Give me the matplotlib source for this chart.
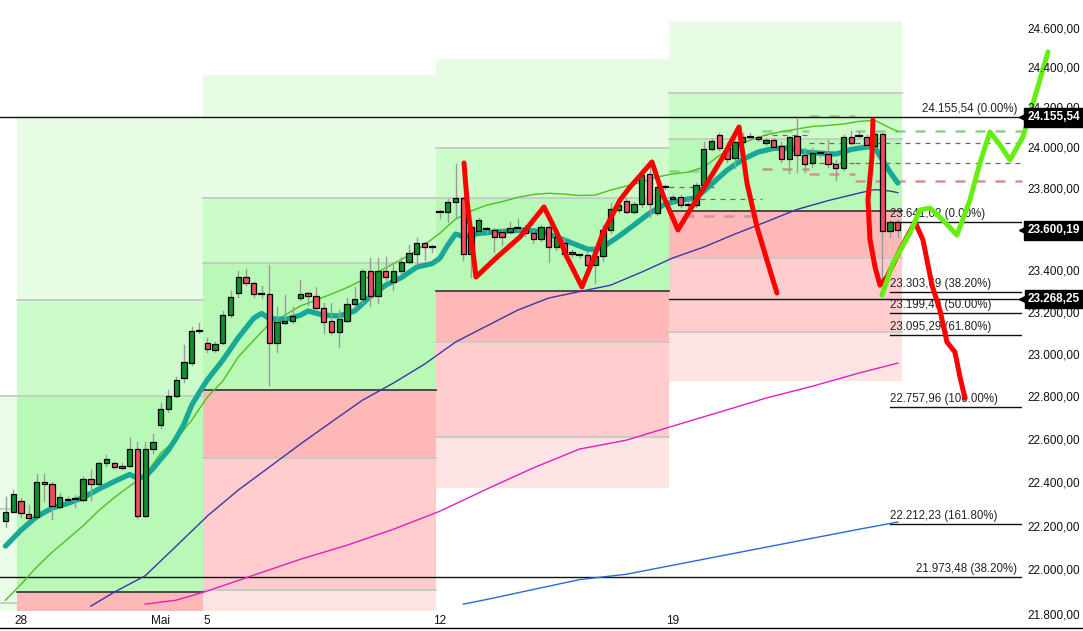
import matplotlib
matplotlib.use("Agg")
import matplotlib.pyplot as plt
import matplotlib.transforms as mtransforms
from matplotlib.ticker import NullLocator
from matplotlib.lines import Line2D

plt.rcParams['font.family'] = ['Liberation Sans', 'DejaVu Sans']

# ---------------- data ----------------
bar_idx = list(range(-2, 114))
opens = [22228, 22270, 22320, 22262, 22244, 22408, 22396, 22293, 22331, 22327,
         22324, 22419, 22396, 22493, 22493, 22470, 22481, 22558, 22250, 22558,
         22671, 22745, 22807, 22891, 22962, 23117, 23057, 23025, 23057, 23191,
         23295, 23375, 23343, 23292, 23291, 23057, 23152, 23161, 23271, 23295,
         23282, 23223, 23163, 23109, 23164, 23243, 23267, 23404, 23284, 23401,
         23348, 23401, 23445, 23485, 23537, 23517, 23688, 23688, 23739, 23756,
         23483, 23598, 23605, 23601, 23593, 23590, 23613, 23611, 23585, 23556,
         23615, 23520, 23540, 23485, 23478, 23478, 23432, 23475, 23601, 23699,
         23743, 23691, 23728, 23874, 23683, 23813, 23751, 23764, 23723, 23723,
         23821, 23997, 24068, 24002, 23953, 24032, 24057, 24057, 24027, 24044,
         24014, 23948, 24063, 23969, 23928, 23978, 23973, 23925, 23904, 24057,
         24065, 24060, 24014, 24073, 23597, 23642]
highs = [22339, 22370, 22333, 22301, 22444, 22444, 22408, 22356, 22339, 22347,
         22431, 22462, 22501, 22532, 22501, 22493, 22609, 22593, 22593, 22628,
         22776, 22835, 22898, 23049, 23136, 23152, 23080, 23061, 23211, 23306,
         23402, 23411, 23351, 23330, 23432, 23228, 23287, 23228, 23359, 23303,
         23327, 23247, 23247, 23215, 23271, 23327, 23415, 23464, 23464, 23472,
         23441, 23472, 23529, 23561, 23545, 23529, 23699, 23751, 23925, 23764,
         23640, 23658, 23618, 23610, 23601, 23642, 23655, 23626, 23601, 23626,
         23626, 23585, 23563, 23504, 23487, 23496, 23520, 23626, 23732, 23739,
         23756, 23739, 23887, 23912, 23821, 23824, 23772, 23772, 23748, 23830,
         24035, 24047, 24077, 24027, 24044, 24077, 24077, 24063, 24052, 24052,
         24035, 24060, 24151, 24002, 24002, 23994, 24044, 23945, 24068, 24090,
         24090, 24068, 24080, 24077, 23650, 23650]
lows = [22201, 22268, 22245, 22235, 22239, 22320, 22239, 22287, 22320, 22293,
        22320, 22324, 22392, 22481, 22472, 22465, 22475, 22240, 22247, 22542,
        22659, 22734, 22805, 22875, 22954, 23107, 23017, 23014, 23053, 23180,
        23279, 23335, 23279, 23271, 22859, 23017, 23149, 23155, 23263, 23239,
        23215, 23104, 23101, 23038, 23159, 23231, 23247, 23234, 23247, 23359,
        23311, 23391, 23440, 23432, 23456, 23496, 23658, 23642, 23666, 23456,
        23374, 23593, 23585, 23496, 23529, 23585, 23601, 23572, 23537, 23549,
        23448, 23504, 23470, 23472, 23468, 23422, 23343, 23452, 23588, 23691,
        23683, 23683, 23715, 23666, 23675, 23801, 23739, 23715, 23715, 23715,
        23810, 23994, 23994, 23936, 23904, 24024, 24044, 24040, 24019, 24002,
        23936, 23879, 23887, 23887, 23912, 23961, 23912, 23846, 23895, 24024,
        24057, 24010, 24010, 23285, 23569, 23569]
closes = [22270, 22354, 22265, 22240, 22408, 22396, 22297, 22336, 22324, 22326,
          22419, 22396, 22493, 22512, 22475, 22481, 22558, 22250, 22558, 22591,
          22745, 22807, 22883, 22966, 23115, 23116, 23028, 23052, 23190, 23279,
          23375, 23343, 23291, 23291, 23057, 23157, 23163, 23187, 23291, 23282,
          23223, 23160, 23112, 23171, 23243, 23267, 23404, 23284, 23401, 23375,
          23401, 23445, 23488, 23537, 23517, 23518, 23688, 23737, 23756, 23483,
          23618, 23650, 23605, 23569, 23569, 23610, 23613, 23587, 23556, 23618,
          23517, 23569, 23485, 23493, 23478, 23432, 23475, 23601, 23702, 23723,
          23691, 23727, 23871, 23727, 23810, 23813, 23764, 23723, 23723, 23821,
          23997, 24040, 24002, 23948, 24035, 24057, 24057, 24047, 24044, 24010,
          23948, 24057, 23969, 23925, 23978, 23978, 23925, 23904, 24057, 24027,
          24065, 24019, 24073, 23597, 23642, 23600.19]

# moving averages (bar index, price)
ema_idx = [-2, 0, 2, 4, 6, 8, 10, 12, 14, 15, 16, 17, 18, 19, 20, 21, 22, 23, 24,
           26, 28, 30, 31, 32, 34, 36, 37, 39, 41, 43, 45, 47, 49, 51, 53, 54, 55,
           56, 57, 59, 61, 63, 65, 67, 69, 71, 73, 74, 75, 77, 79, 81, 83, 85, 87,
           89, 91, 93, 95, 97, 99, 101, 103, 105, 107, 109, 110, 111, 112, 113]
ema_val = [22113, 22186, 22247, 22287, 22308, 22335, 22374, 22409, 22442, 22425,
           22432, 22469, 22513, 22555, 22611, 22676, 22765, 22826, 22883, 22977,
           23084, 23177, 23199, 23175, 23170, 23191, 23211, 23191, 23187, 23211,
           23280, 23335, 23371, 23422, 23439, 23466, 23529, 23582, 23570, 23585,
           23592, 23597, 23602, 23594, 23568, 23538, 23509, 23507, 23519, 23570,
           23626, 23684, 23728, 23748, 23758, 23826, 23895, 23947, 23984, 24002,
           24004, 23984, 23978, 23974, 23997, 24009, 24009, 23945, 23885, 23831]

sma_fast_idx = [-2, 0, 2, 4, 6, 8, 10, 12, 14, 16, 18, 20, 22, 24, 26, 28, 30, 32,
                34, 36, 38, 40, 42, 44, 46, 48, 50, 52, 54, 56, 58, 60, 62, 64, 66,
                68, 70, 72, 74, 76, 78, 80, 82, 84, 86, 88, 90, 92, 94, 96, 98, 100,
                102, 104, 106, 108, 110, 111, 112, 113]
sma_fast_val = [21868, 21940, 22017, 22085, 22145, 22206, 22275, 22335, 22388, 22439,
                22541, 22604, 22695, 22802, 22878, 22992, 23072, 23149, 23191, 23235,
                23263, 23292, 23323, 23359, 23398, 23439, 23478, 23529, 23587, 23655,
                23694, 23723, 23740, 23761, 23775, 23781, 23777, 23770, 23772, 23797,
                23816, 23836, 23861, 23876, 23885, 23910, 23967, 24007, 24044, 24069,
                24085, 24098, 24111, 24116, 24123, 24136, 24141, 24123, 24103, 24086]

sma_mid_idx = [9, 12, 16, 20, 24, 28, 32, 36, 40, 44, 48, 52, 56, 60, 64, 68, 72,
               76, 80, 84, 88, 92, 96, 100, 104, 108, 110, 112, 113]
sma_mid_val = [21841, 21904, 21978, 22113, 22250, 22370, 22476, 22583, 22686, 22788,
               22869, 22958, 23063, 23139, 23215, 23273, 23304, 23335, 23398, 23466,
               23519, 23582, 23641, 23702, 23745, 23782, 23799, 23792, 23784]

sma_slow_idx = [16, 20, 24, 30, 36, 42, 48, 54, 60, 66, 72, 78, 84, 90, 96, 102, 108, 113]
sma_slow_val = [21850, 21868, 21909, 21981, 22053, 22117, 22190, 22273, 22374, 22472,
                22560, 22601, 22667, 22732, 22798, 22854, 22916, 22963]

sma_long_idx = [57, 60, 66, 72, 78, 84, 90, 96, 102, 108, 113]
sma_long_val = [21850, 21871, 21916, 21961, 21985, 22026, 22067, 22108, 22149, 22190, 22223]

# weekly zone boxes: x range (bar index) and zone boundaries (price, top -> bottom)
box_x0 = [-0.5, 23.5, 53.5, 83.5]
box_x1 = [23.5, 53.5, 83.5, 113.5]
box_levels = [
    [24162.7, 23263.0, 22807.2, 21904.1, 21700.0],
    [24367.7, 23757.6, 23440.2, 22836.9, 22517.5, 21913.1, 21700.0],
    [24448.3, 24003.6, 23757.6, 23306.3, 23061.5, 22615.5, 22379.0],
    [24640.6, 24277.5, 24048.3, 23693.9, 23465.5, 23110.2, 22877.9],
]
zone_colors = ['#e6fde4', '#cdfccb', '#b9f9b7', '#ffb8b8', '#ffcdcd', '#fde3e3']
prior_levels = [22807.2, 22282.1, 21855.0, 21700.0]

# daily pivot dashes (start bar, end bar, price, kind)
piv_x0 = [83.5, 83.5, 85.5, 87.5, 95.5, 95.5, 95.5, 101.5, 101.5, 101.5, 101.5, 107.5, 107.5, 107.5, 107.5]
piv_x1 = [88.0, 89.5, 95.0, 95.5, 101.5, 101.5, 101.5, 107.5, 107.5, 107.5, 107.5, 129.8, 129.0, 129.0, 129.0]
piv_val = [23890, 23811, 23670, 23753, 24088, 24068, 23900, 24163, 24029, 23930, 23876, 24088, 24029, 23930, 23841]
piv_kind = ['r', 'p', 's', 'p', 'r', 'p', 's', 'r', 'p', 'p', 's', 'r', 'p', 'p', 's']

# fibonacci levels
fib_prices = [24155.54, 23641.02, 23303.69, 23199.49, 23095.29, 22757.96, 22212.23, 21973.48]
fib_pcts = ['0.00%', '0.00%', '38.20%', '50.00%', '61.80%', '100.00%', '161.80%', '38.20%']
fib_x0 = [-2.71, 112.0, 112.0, 112.0, 112.0, 112.0, 112.0, -2.71]
fib_label_right = [True, False, False, False, False, False, False, True]
extra_line_price = 23268.25

# hand drawn annotations (bar index, price)
red1_idx = [57.09, 57.47, 58.63, 61.34, 64.30, 67.40, 69.07, 70.36, 72.29, 73.71, 75.0,
            77.19, 78.48, 81.31, 82.73, 84.66, 86.21, 88.40, 90.46, 92.53, 93.56, 94.85,
            96.52, 97.42]
red1_val = [23930, 23748, 23374, 23470, 23568, 23714, 23587, 23470, 23326, 23456, 23587,
            23748, 23811, 23935, 23772, 23602, 23699, 23831, 23960, 24108, 23831, 23616,
            23407, 23297]
red2_idx = [109.79, 109.66, 109.15, 109.41, 110.05, 110.70, 111.6, 113.27, 115.21, 116.24,
            117.40, 118.43, 119.33, 120.36, 121.01, 121.65]
red2_val = [24143, 23960, 23750, 23555, 23424, 23335, 23374, 23504, 23641, 23553,
            23335, 23214, 23063, 23015, 22897, 22798]
green_idx = [110.95, 112.37, 114.56, 115.85, 117.14, 118.81, 120.62, 122.29, 123.58,
             124.87, 126.16, 127.45, 129.12, 130.93, 132.35]
green_val = [23287, 23441, 23587, 23699, 23709, 23650, 23577, 23748, 23930,
             24083, 24019, 23945, 24059, 24293, 24484]

# axis
price_ticks = [21800, 22000, 22200, 22400, 22600, 22800, 23000, 23200, 23400,
               23600, 23800, 24000, 24200, 24400, 24600]
marker_prices = [24155.54, 23600.19, 23268.25]
x_tick_idx = [0, 18, 24, 54, 84]
x_tick_lab = ['28', 'Mai', '5', '12', '19']


def de(p):
    s = f"{p:,.2f}"
    return s.replace(',', '#').replace('.', ',').replace('#', '.')


# ---------------- figure ----------------
W, H = 1083, 631
fig = plt.figure(figsize=(W / 100, H / 100), dpi=100)
ax = fig.add_axes([0, 21 / H, 1022 / W, 610 / H])
ax.set_yscale('log')
ax.set_xlim(-2.71, 129.0)
ax.set_ylim(21823.7, 24747.5)
ax.yaxis.set_major_locator(NullLocator())
ax.yaxis.set_minor_locator(NullLocator())
for s in ax.spines.values():
    s.set_visible(False)

# prior week column
ax.fill_between([-2.71, -0.5], prior_levels[-1], prior_levels[0], color='#e9fce7', lw=0, zorder=0)
for lv in prior_levels[1:-1]:
    ax.plot([-2.71, -0.5], [lv, lv], color='#c8c8c8', lw=1.3, zorder=1)

# weekly boxes
for x0, x1, lv in zip(box_x0, box_x1, box_levels):
    for k in range(len(lv) - 1):
        ax.fill_between([x0, x1], lv[k + 1], lv[k], color=zone_colors[k], lw=0, zorder=0)
    for k in range(1, len(lv) - 1):
        col = '#404040' if k == 3 else '#c8c8c8'
        ax.plot([x0, x1], [lv[k], lv[k]], color=col, lw=1.3, zorder=1)
ax.plot([-2.71, -0.5], [box_levels[0][2], box_levels[0][2]], color='#c8c8c8', lw=1.3, zorder=1)

# pivot dashes
piv_style = {'r': ('#8fce8f', 1.8), 'p': ('#6a6a6a', 0.9), 's': ('#d29494', 1.8)}
for x0, x1, v, k in zip(piv_x0, piv_x1, piv_val, piv_kind):
    c, w = piv_style[k]
    if k == 's' and x1 < 107:
        c = '#b0a080' if x0 > 90 else c
    ax.plot([x0, x1], [v, v], color=c, lw=w, ls=(0, (4, 4)), zorder=2, clip_on=False)

# fib lines and labels
for p, pct, x0, right in zip(fib_prices, fib_pcts, fib_x0, fib_label_right):
    ax.plot([x0, 129.0], [p, p], color='#111111', lw=1.0, zorder=3)
    txt = f"{de(p)} ({pct})"
    if right:
        ax.annotate(txt, (128.4, p), xytext=(0, 1.5), textcoords='offset points',
                    ha='right', va='bottom', fontsize=8.3, color='#222222', zorder=3)
    else:
        ax.annotate(txt, (x0, p), xytext=(0, 1.5), textcoords='offset points',
                    ha='left', va='bottom', fontsize=8.3, color='#222222', zorder=3)
ax.plot([83.5, 129.0], [extra_line_price, extra_line_price], color='#111111', lw=1.0, zorder=3)

# moving averages
ax.plot(sma_long_idx, sma_long_val, color='#2a6ad8', lw=1.0, zorder=4)
ax.plot(sma_slow_idx, sma_slow_val, color='#e020c0', lw=1.0, zorder=4)
ax.plot(sma_mid_idx, sma_mid_val, color='#3c36a8', lw=1.0, zorder=4)
ax.plot(sma_fast_idx, sma_fast_val, color='#4cc21c', lw=1.0, zorder=4)
ax.plot(ema_idx, ema_val, color='#17a898', lw=3.8, zorder=5, solid_capstyle='round',
        solid_joinstyle='round')

# candles
for i, o, h, l, c in zip(bar_idx, opens, highs, lows, closes):
    ax.plot([i, i], [l, h], color='#9a9a9a', lw=1.0, zorder=6)
    col = '#12902e' if c >= o else '#f04c5c'
    lo, hi = min(o, c), max(o, c)
    if hi - lo < 2:
        ax.plot([i - 0.33, i + 0.33], [o, o], color='black', lw=1.6, zorder=7)
    else:
        ax.bar(i, hi - lo, bottom=lo, width=0.68, color=col, edgecolor='black',
               linewidth=0.9, zorder=7)

# hand drawn lines
ax.plot(red1_idx, red1_val, color='#ff0000', lw=3.6, zorder=8, solid_capstyle='round',
        solid_joinstyle='round')
ax.plot(red2_idx, red2_val, color='#ff0000', lw=3.6, zorder=8, solid_capstyle='round',
        solid_joinstyle='round', clip_on=False)
ax.plot(green_idx, green_val, color='#66ee11', lw=3.6, zorder=8, solid_capstyle='round',
        solid_joinstyle='round', clip_on=False)

# right price axis
blend = mtransforms.blended_transform_factory(ax.transAxes, ax.transData)
xr = 1080 / 1022
for t in price_ticks:
    ax.text(xr, t, de(t), transform=blend, ha='right', va='center', fontsize=8.5,
            color='#111111', clip_on=False, zorder=9)
for p in marker_prices:
    ax.text(xr, p, de(p), transform=blend, ha='right', va='center', fontsize=8.5,
            color='white', weight='bold', clip_on=False, zorder=11,
            bbox=dict(boxstyle='square,pad=0.28', fc='black', ec='black'))
    ax.plot([1003 / 1022 + 0.0205], [p], marker='<', ms=7, color='black', transform=blend,
            clip_on=False, zorder=10)

# x axis
ax.set_xticks(x_tick_idx)
ax.set_xticklabels(x_tick_lab, fontsize=8.5, color='#111111')
ax.tick_params(axis='x', length=0, pad=3.5)
fig.add_artist(Line2D([0, 1], [3 / H, 3 / H], color='black', lw=1.0))

fig.savefig('out.png', dpi=100)
